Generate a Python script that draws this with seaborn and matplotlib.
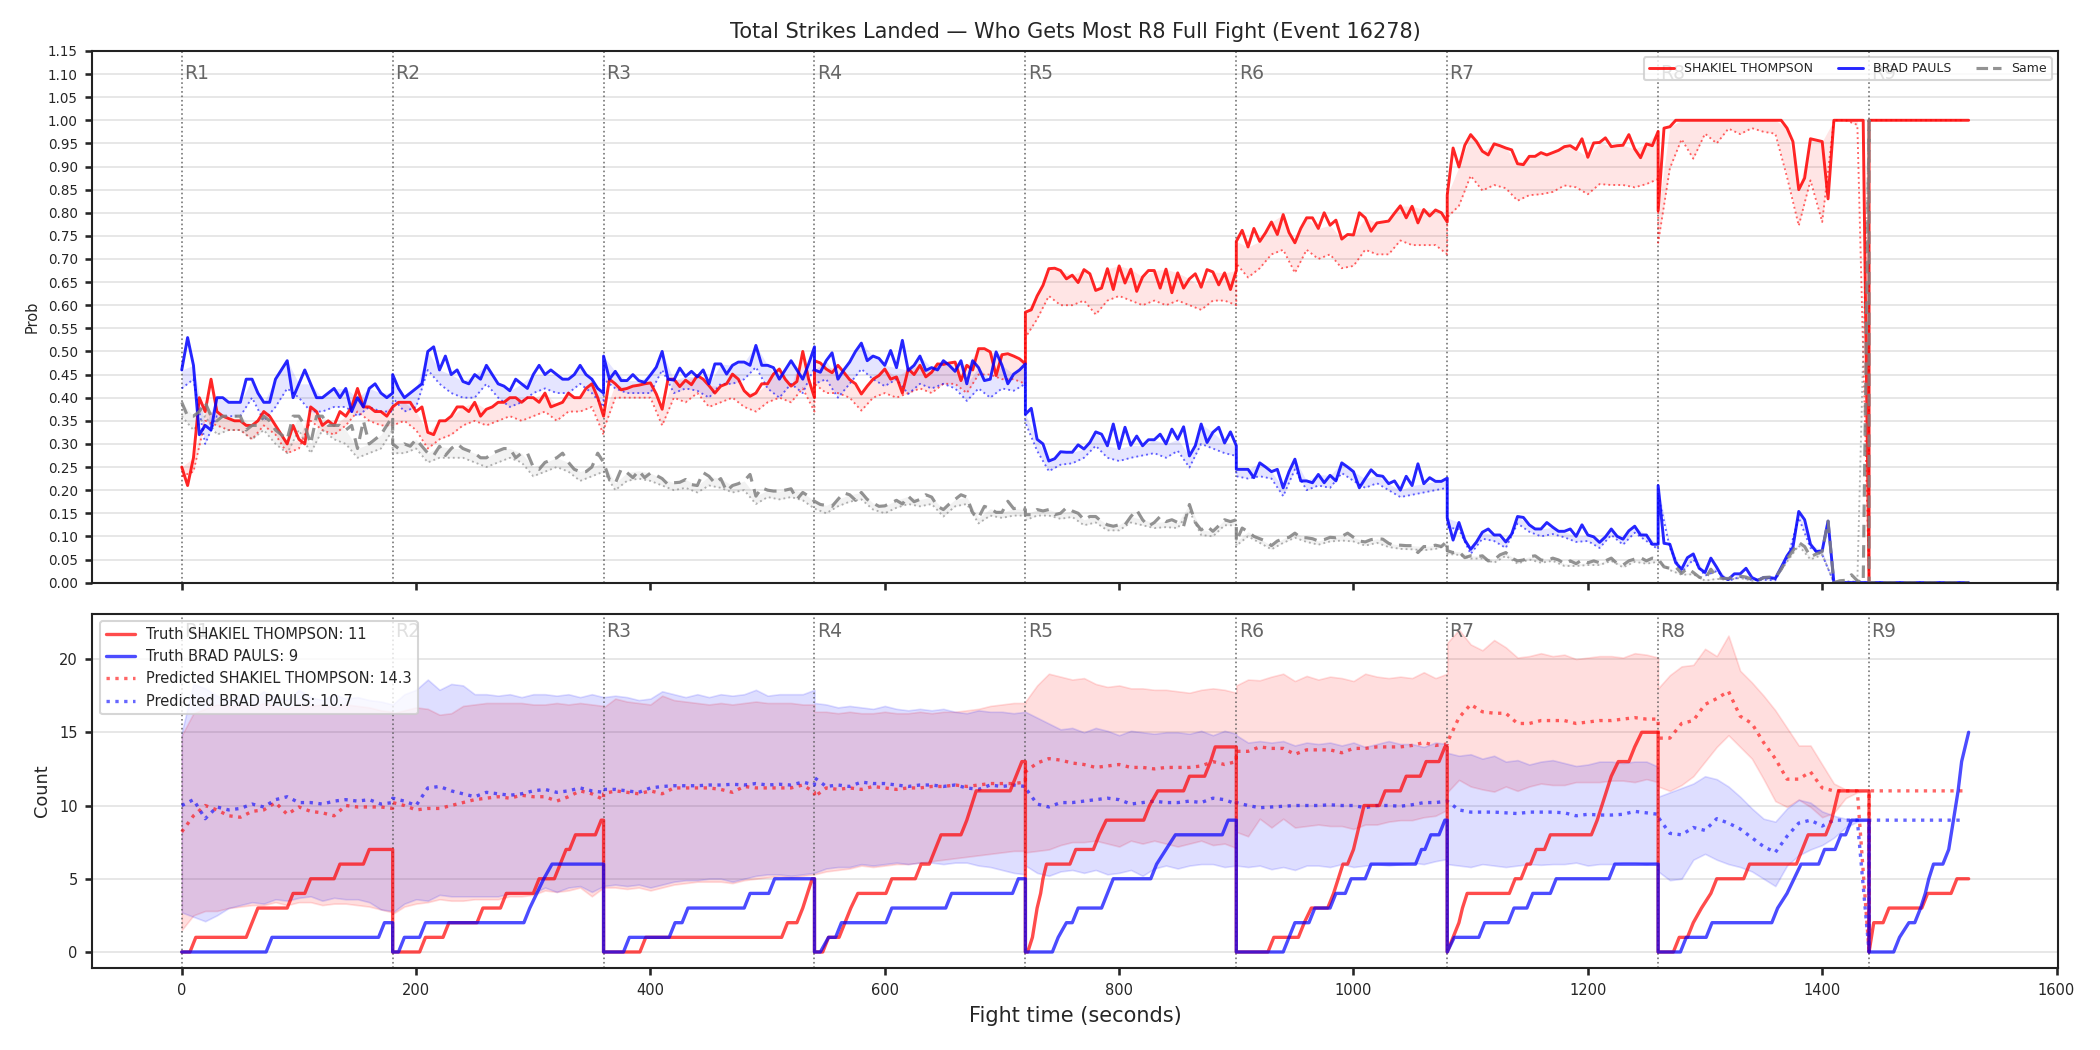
import numpy as np
import matplotlib
matplotlib.use("Agg")
import matplotlib.pyplot as plt
import seaborn as sns
from matplotlib.lines import Line2D

# ---------------- data ----------------
TITLE = "Total Strikes Landed — Who Gets Most R8 Full Fight (Event 16278)"
FIGHTER_A = "SHAKIEL THOMPSON"
FIGHTER_B = "BRAD PAULS"
SAME_LABEL = "Same"
ROUND_LEN = 180
ROUND_LABELS = ["R1", "R2", "R3", "R4", "R5", "R6", "R7", "R8", "R9"]
TRUTH_FINAL = [11, 9]
PRED_FINAL = [14.3, 10.7]

# probability per round, sampled every 5 s
prob_a = [
    [.25,.21,.27,.40,.37,.44,.37,.36,.355,.35,.35,.34,.34,.35,.37,.36,.34,.32,.30,.34,.31,.30,.38,.37,.34,.35,.34,.37,.36,.38,.42,.38,.38,.37,.37,.36,.38],
    [.38,.39,.39,.39,.37,.38,.325,.32,.35,.35,.36,.38,.38,.37,.39,.36,.375,.38,.39,.39,.40,.40,.39,.40,.40,.39,.41,.38,.385,.39,.41,.40,.40,.42,.43,.40,.36],
    [.36,.44,.43,.417,.42,.425,.427,.43,.432,.408,.375,.44,.44,.424,.438,.428,.448,.44,.426,.41,.425,.43,.451,.44,.415,.403,.41,.43,.43,.451,.462,.44,.425,.435,.50,.44,.40],
    [.48,.475,.462,.454,.47,.455,.439,.43,.408,.425,.44,.448,.462,.44,.445,.41,.462,.45,.47,.445,.455,.473,.472,.475,.477,.437,.47,.46,.506,.506,.499,.448,.493,.495,.49,.484,.473],
    [.585,.59,.62,.643,.679,.68,.675,.657,.665,.649,.677,.668,.632,.637,.679,.634,.685,.648,.678,.63,.661,.675,.675,.637,.678,.627,.67,.637,.657,.668,.639,.677,.672,.644,.67,.634,.675],
    [.738,.762,.726,.766,.738,.757,.78,.753,.796,.757,.735,.766,.789,.789,.766,.80,.773,.784,.743,.753,.752,.80,.789,.76,.778,.78,.782,.799,.815,.789,.814,.778,.807,.793,.806,.80,.78],
    [.838,.94,.899,.946,.969,.954,.933,.925,.949,.945,.94,.936,.906,.904,.922,.922,.93,.925,.93,.935,.943,.945,.937,.96,.92,.951,.952,.962,.943,.945,.946,.969,.938,.919,.949,.945,.976],
    [.804,.983,.986,1,1,1,1,1,1,1,1,1,1,1,1,1,1,1,1,1,1,1,.983,.954,.85,.875,.96,.957,.954,.83,1,1,1,1,1,1,0],
    [1,1,1,1,1,1,1,1,1,1,1,1,1,1,1,1,1,1],
]
prob_b = [
    [.46,.53,.47,.32,.34,.33,.40,.40,.39,.39,.39,.44,.44,.41,.39,.39,.44,.46,.48,.40,.43,.46,.43,.40,.40,.41,.42,.40,.42,.37,.40,.38,.42,.43,.41,.40,.41],
    [.45,.42,.40,.41,.42,.43,.50,.51,.46,.49,.45,.46,.435,.43,.45,.44,.47,.45,.43,.425,.415,.44,.43,.42,.45,.47,.45,.46,.45,.44,.44,.45,.47,.45,.44,.42,.41],
    [.49,.44,.457,.437,.437,.45,.437,.433,.449,.466,.50,.44,.438,.464,.446,.457,.445,.46,.43,.473,.473,.451,.47,.477,.477,.47,.513,.47,.47,.465,.44,.46,.48,.46,.44,.473,.51],
    [.46,.455,.48,.497,.44,.46,.477,.50,.518,.48,.49,.485,.47,.502,.465,.524,.459,.47,.49,.459,.465,.46,.48,.47,.457,.48,.43,.48,.465,.437,.44,.499,.47,.43,.451,.46,.473],
    [.364,.377,.31,.30,.263,.268,.283,.282,.282,.298,.289,.303,.326,.321,.296,.343,.29,.336,.297,.317,.296,.309,.309,.321,.30,.332,.31,.337,.274,.296,.343,.303,.325,.336,.302,.326,.296],
    [.245,.245,.245,.227,.259,.25,.24,.245,.205,.24,.267,.22,.22,.216,.234,.216,.232,.22,.259,.25,.24,.205,.225,.244,.232,.23,.214,.22,.20,.23,.21,.257,.214,.227,.219,.219,.226],
    [.14,.092,.13,.092,.072,.088,.109,.116,.103,.103,.088,.105,.143,.141,.125,.116,.116,.13,.12,.111,.111,.116,.10,.125,.103,.099,.087,.099,.116,.10,.094,.112,.122,.103,.103,.083,.083],
    [.21,.085,.083,.043,.029,.054,.062,.031,.022,.053,.033,.011,.007,.019,.019,.031,.011,.005,.011,.011,.009,.033,.058,.076,.154,.136,.083,.067,.069,.133,0,0,0,0,0,0,0],
    [0,0,0,0,0,0,0,0,0,0,0,0,0,0,0,0,0,0],
]
prob_same = [
    [.39,.36,.36,.37,.39,.36,.35,.36,.36,.36,.36,.33,.34,.34,.36,.35,.33,.32,.31,.36,.36,.34,.30,.36,.36,.34,.34,.34,.33,.34,.29,.35,.30,.31,.32,.34,.36],
    [.30,.29,.30,.295,.31,.295,.28,.275,.295,.275,.29,.30,.29,.285,.28,.27,.27,.28,.285,.29,.29,.27,.28,.28,.25,.245,.26,.265,.27,.28,.26,.245,.24,.24,.25,.28,.26],
    [.26,.223,.215,.245,.238,.227,.242,.227,.237,.232,.225,.212,.216,.217,.223,.212,.21,.238,.23,.215,.225,.198,.21,.214,.22,.234,.187,.205,.20,.198,.198,.20,.203,.18,.195,.187,.176],
    [.176,.169,.167,.165,.18,.194,.19,.178,.195,.18,.172,.165,.166,.172,.178,.17,.187,.175,.18,.19,.185,.165,.158,.17,.18,.19,.185,.151,.14,.165,.16,.152,.152,.176,.16,.162,.158],
    [.147,.147,.158,.155,.158,.147,.15,.162,.155,.15,.136,.143,.143,.132,.125,.122,.125,.125,.143,.157,.136,.122,.13,.143,.132,.136,.13,.122,.169,.13,.114,.122,.111,.123,.136,.132,.136],
    [.089,.118,.11,.1,.095,.09,.08,.09,.095,.098,.107,.097,.097,.095,.09,.093,.098,.097,.1,.107,.098,.09,.088,.093,.095,.094,.085,.08,.081,.08,.08,.065,.078,.078,.081,.078,.09],
    [.069,.065,.067,.054,.058,.056,.058,.047,.049,.06,.065,.053,.047,.049,.056,.058,.049,.047,.053,.049,.041,.047,.041,.049,.043,.047,.043,.047,.053,.041,.038,.047,.051,.054,.047,.053,.051],
    [.051,.034,.031,.034,.02,.031,.022,.012,.007,.029,.011,.009,.009,.014,.014,.012,.007,.004,.011,.012,.011,.029,.051,.069,.087,.078,.056,.062,.067,.133,0,.004,.005,.017,.004,0,1],
    [0,0,0,0,0,0,0,0,0,0,0,0,0,0,0,0,0,0],
]

# lower (dotted) probability per round, sampled every 10 s
low_a = [
    [.23,.24,.35,.34,.33,.33,.31,.34,.32,.28,.29,.35,.33,.32,.34,.37,.35,.34,.34],
    [.34,.35,.33,.29,.31,.32,.34,.35,.34,.35,.36,.35,.36,.37,.35,.37,.37,.38,.32],
    [.33,.40,.40,.40,.40,.34,.40,.39,.41,.38,.39,.40,.38,.37,.39,.40,.39,.42,.37],
    [.43,.41,.41,.40,.372,.40,.41,.40,.41,.42,.41,.43,.43,.41,.45,.45,.44,.44,.43],
    [.53,.57,.62,.60,.60,.61,.58,.61,.62,.61,.60,.61,.60,.61,.60,.59,.61,.61,.60],
    [.69,.66,.68,.71,.72,.67,.72,.70,.71,.68,.685,.72,.71,.71,.74,.73,.73,.73,.71],
    [.79,.815,.88,.848,.86,.853,.826,.838,.84,.845,.859,.855,.84,.862,.86,.86,.855,.862,.873],
    [.735,.896,.959,.917,.971,.95,.982,.97,.983,.975,.971,.877,.772,.87,.78,1,1,.99,0],
    [1,1,1,1,1,1,1,1,1],
]
low_b = [
    [.42,.44,.30,.36,.36,.36,.40,.35,.38,.42,.40,.37,.37,.38,.38,.36,.38,.37,.37],
    [.40,.37,.38,.46,.43,.41,.40,.40,.43,.40,.38,.39,.41,.42,.41,.41,.43,.41,.38],
    [.44,.42,.41,.41,.41,.46,.41,.42,.415,.40,.43,.43,.44,.466,.42,.40,.43,.41,.466],
    [.43,.44,.40,.43,.462,.44,.425,.44,.408,.43,.42,.43,.42,.393,.42,.40,.42,.415,.43],
    [.346,.285,.241,.255,.258,.27,.296,.27,.263,.27,.275,.28,.27,.285,.249,.30,.29,.28,.274],
    [.23,.225,.23,.225,.187,.245,.20,.21,.205,.237,.22,.205,.215,.20,.185,.19,.195,.20,.205],
    [.12,.115,.062,.095,.09,.075,.128,.11,.10,.105,.098,.088,.09,.075,.103,.082,.108,.09,.072],
    [.19,.075,.022,.05,.015,.025,.004,.012,.006,.006,.005,.05,.14,.075,.06,0,0,0,0],
    [0,0,0,0,0,0,0,0,0],
]
low_same = [
    [.36,.33,.36,.32,.33,.33,.31,.33,.30,.28,.33,.28,.33,.31,.30,.27,.28,.29,.33],
    [.28,.28,.29,.26,.27,.27,.27,.26,.25,.26,.27,.26,.23,.24,.25,.24,.22,.23,.24],
    [.24,.20,.22,.225,.22,.21,.20,.205,.195,.21,.205,.195,.20,.17,.185,.18,.185,.178,.16],
    [.16,.15,.165,.175,.18,.158,.15,.162,.17,.165,.17,.143,.165,.17,.128,.145,.14,.145,.145],
    [.135,.145,.145,.138,.142,.124,.13,.113,.113,.13,.124,.118,.12,.118,.155,.103,.10,.124,.124],
    [.08,.10,.086,.072,.086,.097,.088,.082,.089,.091,.089,.08,.086,.077,.073,.072,.07,.073,.08],
    [.062,.06,.052,.052,.043,.058,.041,.05,.043,.047,.036,.036,.038,.038,.047,.033,.045,.041,.045],
    [.045,.027,.017,.018,.004,.008,.006,.01,.004,.008,.008,.045,.08,.05,.06,0,.003,.002,1],
    [0,0,0,0,0,0,0,0,0],
]

# true strike counts within each round: line vertices (time s, count)
truth_a = [(0,0),(7,0),(12,1),(55,1),(60,2),(65,3),(90,3),(95,4),(105,4),(110,5),(130,5),(135,6),(155,6),(160,7),(180,7),
           (180,0),(203,0),(208,1),(223,1),(228,2),(252,2),(257,3),(272,3),(277,4),(300,4),(305,5),(318,5),(323,6),(328,7),(331,7),(336,8),(353,8),(358,9),(360,9),
           (360,0),(391,0),(396,1),(512,1),(517,2),(525,2),(530,3),(534,4),(538,5),(540,5),
           (540,0),(547,0),(552,1),(561,1),(566,2),(571,3),(577,4),(601,4),(606,5),(626,5),(631,6),(638,6),(643,7),(648,8),(665,8),(670,9),(674,10),(678,11),(707,11),(712,12),(717,13),(720,13),
           (720,0),(722,0),(726,1),(728,2),(730,3),(733,4),(735,5),(738,6),(758,6),(763,7),(778,7),(783,8),(789,9),(821,9),(826,10),(833,11),(855,11),(860,12),(873,12),(878,13),(882,14),(900,14),
           (900,0),(927,0),(932,1),(953,1),(958,2),(964,3),(978,3),(983,4),(987,5),(991,6),(995,6),(1000,7),(1003,8),(1006,9),(1009,10),(1022,10),(1027,11),(1040,11),(1045,12),(1057,12),(1062,13),(1073,13),(1078,14),(1080,14),
           (1080,0),(1085,1),(1090,2),(1093,3),(1097,4),(1133,4),(1138,5),(1143,5),(1148,6),(1151,6),(1156,7),(1163,7),(1168,8),(1203,8),(1208,9),(1212,10),(1216,11),(1220,12),(1226,13),(1235,13),(1240,14),(1246,15),(1260,15),
           (1260,0),(1273,0),(1278,1),(1285,1),(1290,2),(1297,3),(1305,4),(1310,5),(1333,5),(1338,6),(1378,6),(1383,7),(1388,8),(1403,8),(1408,9),(1411,10),(1414,11),(1440,11),
           (1440,0),(1442,1),(1444,2),(1452,2),(1457,3),(1485,3),(1490,4),(1510,4),(1515,5),(1525,5)]
truth_b = [(0,0),(72,0),(77,1),(168,1),(173,2),(180,2),
           (180,0),(185,0),(190,1),(203,1),(208,2),(292,2),(297,3),(303,4),(309,5),(316,6),(360,6),
           (360,0),(377,0),(382,1),(416,1),(421,2),(427,2),(432,3),(480,3),(485,4),(501,4),(506,5),(540,5),
           (540,0),(545,0),(552,1),(558,1),(563,2),(601,2),(606,3),(652,3),(657,4),(709,4),(714,5),(720,5),
           (720,0),(743,0),(748,1),(755,2),(760,2),(765,3),(785,3),(790,4),(795,5),(827,5),(832,6),(840,7),(848,8),(888,8),(893,9),(900,9),
           (900,0),(940,0),(945,1),(950,2),(962,2),(967,3),(980,3),(985,4),(993,4),(998,5),(1010,5),(1015,6),(1053,6),(1058,7),(1061,7),(1066,8),(1073,8),(1078,9),(1080,9),
           (1080,0),(1086,1),(1107,1),(1112,2),(1132,2),(1137,3),(1148,3),(1153,4),(1168,4),(1173,5),(1218,5),(1223,6),(1260,6),
           (1260,0),(1279,0),(1284,1),(1301,1),(1306,2),(1357,2),(1362,3),(1370,4),(1376,5),(1382,6),(1397,6),(1402,7),(1411,7),(1416,8),(1420,8),(1425,9),(1440,9),
           (1440,0),(1461,0),(1466,1),(1474,2),(1479,2),(1484,3),(1488,4),(1491,5),(1495,6),(1503,6),(1508,7),(1512,9),(1516,11),(1519,13),(1522,14),(1525,15)]

# predicted totals per round, sampled every 10 s
pred_a = [
    [8.2,9.3,10.0,9.7,9.3,9.2,9.6,9.7,10.2,9.4,9.9,9.6,9.5,9.3,10.0,9.9,9.9,9.9,9.8],
    [10.2,10.0,9.7,9.8,9.8,10.0,10.2,10.4,10.5,10.6,10.5,10.7,10.6,10.6,10.3,10.6,11.0,10.8,10.4],
    [10.8,11.0,10.9,10.8,11.0,10.8,11.2,11.2,11.2,11.2,11.1,10.9,11.3,11.2,11.2,11.2,11.2,11.4,10.9],
    [10.6,11.2,11.1,11.2,11.1,11.3,11.2,11.1,11.2,11.2,11.3,11.3,11.4,11.3,11.4,11.5,11.5,11.5,11.6],
    [12.3,12.9,13.2,13.1,12.9,12.8,12.6,12.7,12.8,12.6,12.6,12.5,12.6,12.6,12.6,12.7,13.0,12.8,13.0],
    [13.7,13.7,14.0,13.9,13.9,13.5,13.8,13.8,13.8,13.6,13.9,13.9,14.0,14.0,14.0,14.1,14.3,14.1,14.2],
    [14.3,16.0,16.9,16.4,16.3,16.3,15.6,15.6,15.8,15.8,15.8,15.6,15.7,15.8,15.8,15.9,16.0,15.9,15.9],
    [14.6,14.6,15.6,15.8,16.9,17.3,17.8,16.1,15.6,14.3,13.2,11.8,11.8,12.3,11.2,11.0,11.0,11.0,0.0],
    [11.0,11.0,11.0,11.0,11.0,11.0,11.0,11.0,11.0],
]
pred_b = [
    [10.0,10.4,9.1,9.9,9.7,9.8,10.1,9.9,10.4,10.6,10.2,10.2,10.1,10.3,10.4,10.3,10.4,10.1,10.2],
    [10.5,10.3,10.0,11.2,11.3,11.0,10.8,10.6,10.9,10.8,10.7,10.8,11.0,11.1,10.9,11.0,11.2,11.0,10.9],
    [11.1,11.1,11.0,10.9,11.2,11.3,11.35,11.35,11.35,11.4,11.4,11.45,11.4,11.5,11.4,11.45,11.4,11.6,11.4],
    [11.9,11.3,11.4,11.3,11.6,11.5,11.5,11.4,11.3,11.4,11.4,11.3,11.4,11.2,11.1,11.4,11.3,11.4,11.3],
    [11.2,10.1,9.9,10.2,10.2,10.3,10.4,10.5,10.4,10.1,10.2,10.3,10.2,10.2,10.3,10.2,10.5,10.4,10.1],
    [10.2,10.0,9.85,9.9,9.95,10.0,10.0,10.0,10.05,10.0,10.0,9.85,10.0,10.0,9.95,10.05,10.2,10.2,10.3],
    [10.3,9.7,9.55,9.55,9.55,9.5,9.45,9.55,9.55,9.55,9.5,9.3,9.4,9.35,9.35,9.4,9.6,9.5,9.4],
    [9.2,8.1,8.0,8.5,8.3,9.1,8.8,8.4,7.8,7.2,6.8,7.9,8.8,9.0,8.6,9.0,9.0,9.0,0.0],
    [9.0,9.0,9.0,9.0,9.0,9.0,9.0,9.0,9.0],
]
# prediction interval bounds (rounds 1-8), sampled every 10 s
hi_a = [
    [14.8,16.3,16.6,16.9,16.8,16.9,16.7,17.0,16.8,16.6,16.9,16.8,16.9,16.7,16.9,16.8,16.7,16.5,16.4],
    [16.3,16.5,16.7,16.6,16.2,16.3,16.8,16.9,17.0,17.0,17.0,17.0,16.9,16.9,17.0,16.9,17.0,16.9,16.8],
    [16.7,17.3,17.1,17.0,16.9,17.5,17.2,17.1,17.0,16.9,17.0,16.9,17.0,17.1,17.0,17.0,17.0,16.9,16.9],
    [16.4,16.4,16.3,16.4,16.3,16.3,16.4,16.3,16.3,16.4,16.3,16.4,16.4,16.5,16.6,16.8,16.9,17.0,17.0],
    [17.1,18.2,19.0,18.8,18.6,18.7,18.3,18.1,18.2,18.0,18.0,17.9,17.9,17.8,17.7,17.9,18.0,17.9,17.7],
    [18.2,18.6,18.55,18.8,19.0,18.5,18.85,18.6,18.8,18.7,18.5,19.0,18.8,18.7,18.8,18.7,19.1,18.7,19.0],
    [21.1,22.0,21.0,20.6,21.3,20.8,20.1,20.2,20.4,20.2,20.3,20.0,20.1,20.2,20.2,20.1,20.4,20.3,20.1],
    [18.0,18.9,19.5,19.6,20.7,20.2,21.6,19.2,18.4,17.5,16.5,15.3,14.1,14.1,12.8,11.5,11.1,11.0,11.0],
]
lo_a = [
    [1.5,2.5,2.8,2.8,3.0,3.1,3.2,3.2,3.4,3.2,3.4,3.4,3.2,3.3,3.3,3.2,3.1,2.9,2.7],
    [2.6,3.1,3.3,3.4,3.6,3.5,3.5,3.6,3.6,3.6,3.8,3.8,3.9,4.2,4.1,4.2,4.4,3.8,4.4],
    [4.4,4.4,4.3,4.4,4.2,4.4,4.6,4.7,4.8,4.8,4.8,4.7,4.9,5.0,5.1,5.2,5.1,5.2,5.3],
    [5.3,5.5,5.6,5.7,5.9,5.8,5.9,6.0,6.0,6.1,6.2,6.3,6.4,6.5,6.6,6.7,6.8,6.9,6.9],
    [6.8,6.9,7.0,7.3,7.5,7.5,7.6,7.4,7.2,7.6,7.4,7.6,7.4,7.2,7.4,7.6,7.3,7.4,7.1],
    [8.2,7.9,9.1,8.5,9.1,8.5,8.6,8.7,8.6,8.6,8.4,8.7,8.7,8.9,9.0,9.0,9.2,9.3,9.7],
    [10.9,11.75,11.3,11.1,10.95,11.3,11.0,11.3,11.5,11.4,11.4,11.6,11.6,11.6,11.7,11.7,11.6,11.8,11.6],
    [11.3,11.0,11.4,12.0,13.0,14.0,14.8,14.0,13.2,11.8,10.3,9.9,10.4,9.9,9.2,9.5,10.5,10.9,11.0],
]
hi_b = [
    [15.0,18.3,18.0,17.5,17.2,17.6,17.3,17.8,17.4,17.2,17.9,17.4,17.2,17.6,17.3,17.4,17.2,17.1,16.9],
    [16.9,17.6,17.9,18.6,17.9,18.3,18.2,17.6,17.6,17.5,17.6,17.4,17.6,17.6,17.5,17.6,17.4,17.6,17.4],
    [17.4,17.5,17.4,17.2,17.3,17.8,17.6,17.4,17.6,17.4,17.6,17.5,17.6,17.9,17.5,17.6,17.6,17.6,17.9],
    [17.0,16.9,16.7,16.8,16.7,16.6,16.8,16.6,16.5,16.6,16.5,16.6,16.4,16.3,16.5,16.4,16.4,16.3,16.4],
    [16.4,16.0,15.6,15.2,15.3,15.0,15.3,15.1,14.8,15.1,15.0,14.9,15.0,15.0,14.9,15.1,14.8,15.1,14.9],
    [14.8,14.3,14.4,14.3,14.4,14.1,14.3,14.2,14.3,14.1,14.3,14.0,14.2,14.4,14.2,14.2,14.0,14.3,14.2],
    [13.6,13.4,13.5,13.2,13.4,13.0,13.1,12.8,13.0,13.1,12.9,12.7,12.8,13.0,13.0,12.9,13.0,13.0,12.65],
    [10.6,10.9,11.2,11.5,12.0,11.8,11.3,10.6,9.8,9.1,8.9,9.8,10.4,10.2,9.6,9.3,9.1,9.0,9.0],
]
lo_b = [
    [2.7,2.4,2.1,2.5,3.0,3.2,3.4,3.3,3.6,3.5,3.7,3.8,3.5,3.7,3.6,3.6,3.4,2.9,2.8],
    [2.7,3.3,3.6,3.5,3.9,3.8,3.8,3.8,3.8,3.8,4.0,4.0,4.0,4.4,4.1,4.4,4.5,4.1,4.5],
    [4.5,4.6,4.5,4.6,4.4,4.6,4.8,4.9,4.9,5.0,5.0,4.8,5.0,5.2,5.3,5.3,5.2,5.3,5.4],
    [5.4,5.7,5.8,5.8,6.0,5.9,6.0,6.1,6.0,6.1,6.1,6.0,6.1,6.1,5.9,5.8,5.6,5.4,5.3],
    [5.9,5.4,5.2,5.5,5.6,5.4,5.6,5.3,5.4,5.6,5.2,5.7,5.9,5.7,5.9,6.0,6.0,5.8,5.9],
    [5.9,5.8,5.9,5.65,5.8,5.6,5.9,5.9,5.8,6.0,5.8,5.9,6.0,5.9,6.0,6.1,6.0,6.2,6.35],
    [6.0,5.9,5.8,6.0,5.9,5.8,5.9,6.0,5.95,6.0,6.0,6.1,5.9,6.0,6.0,6.1,6.1,6.0,6.1],
    [5.5,4.9,5.0,6.3,6.7,6.3,6.0,5.8,5.5,5.0,4.5,5.9,6.6,7.0,7.3,7.8,8.5,8.9,9.0],
]

# ---------------- helpers ----------------
def times(rounds, step):
    return np.concatenate([r * ROUND_LEN + step * np.arange(len(v)) for r, v in enumerate(rounds)])

def flat(rounds):
    return np.concatenate([np.asarray(v, float) for v in rounds])

def every_other(rounds):
    return np.concatenate([np.asarray(v, float)[::2] for v in rounds])

RED, BLUE, GRAY = "#ff0000", "#0000ff", "#808080"

sns.set_theme(style="ticks")
plt.rcParams["font.family"] = ["DejaVu Sans"]
plt.rcParams["axes.edgecolor"] = "#222222"
plt.rcParams["axes.linewidth"] = 1.0

fig, (ax1, ax2) = plt.subplots(2, 1, figsize=(14, 7), dpi=150, sharex=True,
                               gridspec_kw=dict(height_ratios=[3, 2]))
fig.subplots_adjust(left=0.044, right=0.980, top=0.9515, bottom=0.078, hspace=0.07)

# ---------------- top: probabilities ----------------
t10 = times(low_a, 10)
for solid, low, col in [(prob_a, low_a, RED), (prob_b, low_b, BLUE), (prob_same, low_same, GRAY)]:
    s2 = every_other(solid)
    lo = flat(low)
    n = min(len(s2), len(lo), len(t10))
    ax1.fill_between(t10[:n], s2[:n], lo[:n], color=col, alpha=0.1, lw=0)
    sns.lineplot(x=t10[:n], y=lo[:n], ax=ax1, estimator=None, sort=False,
                 color=col, lw=0.9, ls=":", alpha=0.6)

sns.lineplot(x=times(prob_a, 5), y=flat(prob_a), ax=ax1, estimator=None, sort=False,
             color=RED, lw=1.4, alpha=0.85)
sns.lineplot(x=times(prob_b, 5), y=flat(prob_b), ax=ax1, estimator=None, sort=False,
             color=BLUE, lw=1.4, alpha=0.85)
sns.lineplot(x=times(prob_same, 5), y=flat(prob_same), ax=ax1, estimator=None, sort=False,
             color=GRAY, lw=1.5, ls=(0, (4, 2.5)), alpha=0.85)

ax1.set_ylim(0, 1.15)
yt = np.round(np.arange(0, 1.151, 0.05), 2)
ax1.set_yticks(yt)
ax1.set_yticklabels([f"{v:.2f}" for v in yt])
ax1.set_ylabel("Prob", fontsize=7)
ax1.tick_params(axis="both", labelsize=6.5, length=3.5)

h_top = [Line2D([], [], color=RED, lw=1.4, alpha=0.85),
         Line2D([], [], color=BLUE, lw=1.4, alpha=0.85),
         Line2D([], [], color=GRAY, lw=1.5, ls="--", alpha=0.85)]

# ---------------- bottom: counts ----------------
tb = times(hi_a, 10)
for hi, lo, col in [(hi_a, lo_a, RED), (hi_b, lo_b, BLUE)]:
    ax2.fill_between(tb, flat(lo), flat(hi), color=col, alpha=0.13, lw=0.8)

tp = times(pred_a, 10)
sns.lineplot(x=tp, y=flat(pred_a), ax=ax2, estimator=None, sort=False,
             color=RED, lw=1.6, ls=":", alpha=0.6)
sns.lineplot(x=tp, y=flat(pred_b), ax=ax2, estimator=None, sort=False,
             color=BLUE, lw=1.6, ls=":", alpha=0.6)

ta, na = zip(*truth_a)
tb_, nb = zip(*truth_b)
sns.lineplot(x=np.array(ta, float), y=np.array(na, float), ax=ax2, estimator=None, sort=False,
             color=RED, lw=1.6, alpha=0.7)
sns.lineplot(x=np.array(tb_, float), y=np.array(nb, float), ax=ax2, estimator=None, sort=False,
             color=BLUE, lw=1.6, alpha=0.7)

ax2.set_ylabel("Count", fontsize=8.5)
ax2.set_xlabel("Fight time (seconds)", fontsize=10)
ax2.tick_params(axis="both", labelsize=7, length=3.5)
ax2.set_yticks([0, 5, 10, 15, 20])

h_bot = [Line2D([], [], color=RED, lw=1.6, alpha=0.7),
         Line2D([], [], color=BLUE, lw=1.6, alpha=0.7),
         Line2D([], [], color=RED, lw=1.6, ls=":", alpha=0.6),
         Line2D([], [], color=BLUE, lw=1.6, ls=":", alpha=0.6)]
l_bot = [f"Truth {FIGHTER_A}: {TRUTH_FINAL[0]}", f"Truth {FIGHTER_B}: {TRUTH_FINAL[1]}",
         f"Predicted {FIGHTER_A}: {PRED_FINAL[0]}", f"Predicted {FIGHTER_B}: {PRED_FINAL[1]}"]

# ---------------- round markers, grid ----------------
for ax in (ax1, ax2):
    ax.grid(axis="y", color="#e3e3e3", lw=0.8)
    ax.grid(axis="x", visible=False)
    ax.set_axisbelow(True)
    for i, lab in enumerate(ROUND_LABELS):
        x0 = i * ROUND_LEN
        ax.axvline(x0, color="#555555", ls=":", lw=0.8, alpha=0.8, zorder=1)
        ax.text(x0 + 2, 0.975, lab, transform=ax.get_xaxis_transform(), va="top", ha="left",
                fontsize=9, color="#666666", zorder=1)
    for sp in ax.spines.values():
        sp.set_visible(True)

ax2.legend(h_bot, l_bot, loc="upper left", fontsize=7, framealpha=0.8)
ax1.legend(h_top, [FIGHTER_A, FIGHTER_B, SAME_LABEL], loc="upper right", ncol=3,
           fontsize=6, framealpha=0.8)
ax1.set_xlabel("")
ax1.set_title(TITLE, fontsize=10)

fig.savefig("out.png", dpi=150)
